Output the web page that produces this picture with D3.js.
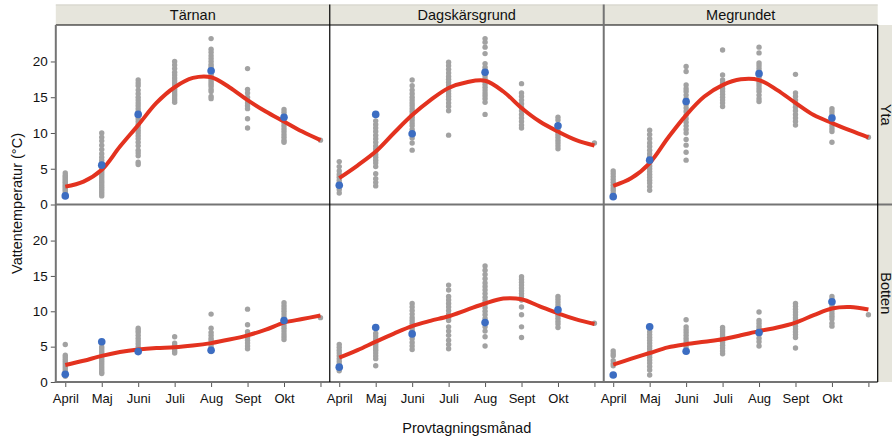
<!DOCTYPE html>
<html>
<head>
<meta charset="utf-8">
<script src="https://cdn.jsdelivr.net/npm/d3@7"></script>
<style>
  body { margin: 0; background: #fff; }
  svg { display: block; font-family: "Liberation Sans", Arial, sans-serif; }
</style>
</head>
<body>
<svg id="chart" width="892" height="440"></svg>
<script>
const sites = ["Tärnan", "Dagskärsgrund", "Megrundet"];
const depths = ["Yta", "Botten"];
const months = ["April", "Maj", "Juni", "Juli", "Aug", "Sept", "Okt", ""];
const yTicks = [0, 5, 10, 15, 20];

// gray dots: one list per month position (8th = extra point at the end)
const grayTarnanYta = [
  [1.3,1.6,1.9,2.1,2.3,2.5,2.7,2.9,3.1,3.3,3.5,3.7,3.9,4.1,4.4],
  [10.0,9.4,8.9,8.3,7.7,7.1,6.6,6.2,5.8,5.2,4.8,4.5,4.2,3.9,3.6,3.3,3.0,2.7,2.4,2.1,1.8,1.5,1.2],
  [17.4,17.0,16.6,16.0,15.5,15.0,14.6,14.2,13.8,13.4,13.0,12.4,12.0,11.6,11.2,10.8,10.4,10.0,9.6,9.2,8.7,8.2,7.6,7.2,6.8,5.9,5.6],
  [20.0,19.5,19.0,18.5,18.1,17.7,17.3,17.0,16.7,16.4,16.1,15.8,15.5,15.2,14.9,14.6,14.3],
  [23.2,21.7,21.3,20.8,20.4,20.0,19.6,19.3,19.0,18.6,18.3,18.0,17.7,17.4,17.1,16.8,16.5,16.1,15.8,15.1,14.8],
  [19.0,16.1,15.6,15.0,14.6,14.2,13.8,13.4,12.0,10.7],
  [13.3,12.9,12.5,11.9,11.4,11.0,10.6,10.2,9.8,9.4,9.0,8.7],
  [9.0]
];
const grayTarnanBotten = [
  [5.3,3.8,3.5,3.2,2.9,2.6,2.3,2.0,1.7,1.4,1.1,0.8],
  [5.5,5.0,4.7,4.4,4.1,3.8,3.5,3.2,2.9,2.6,2.3,2.0,1.7,1.4,1.2],
  [7.6,7.3,7.0,6.6,6.2,5.8,5.4,5.0,4.6],
  [6.4,5.5,5.2,4.9,4.6,4.3,4.1],
  [9.6,7.6,7.0,6.6,6.2,5.9,5.5,5.1,4.7,4.3],
  [10.3,8.1,7.1,6.7,6.3,5.9,5.5,5.1,4.7],
  [11.2,10.8,10.4,10.0,9.6,9.2,8.8,8.4,8.0,7.6,7.2,6.8,6.4,6.0],
  [9.1]
];
const grayDagskarYta = [
  [6.0,5.3,4.7,4.2,3.8,3.4,3.0,2.5,2.1,1.6],
  [11.7,11.2,10.7,10.2,9.7,9.2,8.7,8.2,7.8,7.4,7.0,6.6,6.2,5.8,5.3,4.3,3.6,3.1,2.6],
  [17.4,16.6,16.0,15.5,15.0,14.6,14.2,13.8,13.4,13.0,12.6,12.2,11.8,11.4,11.0,10.5,9.9,9.3,8.6,7.6],
  [19.9,19.4,18.9,18.4,17.9,17.5,17.1,16.7,16.3,15.9,15.5,15.1,14.7,14.2,13.7,13.1,9.7],
  [23.2,22.7,22.0,21.1,19.7,19.2,18.8,18.0,17.6,17.2,16.8,16.4,16.0,15.6,15.2,14.8,14.3,12.6],
  [16.9,15.6,15.1,14.6,14.1,13.6,13.1,12.6,12.1,11.6,11.1,10.7],
  [12.2,11.8,10.6,10.2,9.8,9.4,9.0,8.6,8.2,7.8],
  [8.6]
];
const grayDagskarBotten = [
  [5.3,4.9,4.5,4.1,3.7,3.3,2.9,2.5,2.1,1.6],
  [6.9,6.5,6.1,5.7,5.4,5.1,4.8,4.5,4.1,3.7,3.3,2.3],
  [11.1,10.6,10.1,9.6,9.1,8.7,8.3,7.9,7.5,7.1,6.5,6.1,5.6,5.1,4.6],
  [13.7,13.0,12.1,11.6,11.1,10.6,10.1,9.6,9.1,8.7,7.8,7.2,6.6,5.9,5.3,4.7],
  [16.4,15.8,15.2,14.6,14.0,13.5,13.0,12.5,12.0,11.5,11.0,10.5,10.0,9.5,9.0,7.8,7.2,6.4,5.1],
  [14.9,14.5,14.1,13.7,13.3,12.9,12.5,12.1,11.6,10.6,9.5,7.8,6.3],
  [12.1,11.7,11.3,10.9,10.5,9.8,9.4,9.0,8.6,8.2,7.7],
  [8.3]
];
const grayMegrundetYta = [
  [4.7,4.3,3.9,3.5,3.1,2.7,2.3,2.0,1.6],
  [10.4,9.8,9.2,8.6,8.1,7.6,7.1,6.7,6.3,5.8,5.4,5.0,4.6,4.2,3.8,3.4,3.0,2.5,2.0],
  [19.3,18.6,16.7,16.2,15.8,15.3,14.8,14.0,13.5,13.0,12.5,12.0,11.5,11.0,10.5,10.0,9.1,8.3,7.3,6.2],
  [21.6,18.1,17.4,17.0,16.6,16.2,15.8,15.4,15.0,14.6,14.2,13.7],
  [22.0,21.2,19.8,19.4,19.0,18.6,18.2,17.8,17.4,17.0,16.6,16.2,15.8,15.3,14.8,14.4],
  [18.2,15.6,15.1,14.6,14.1,13.6,13.1,12.6,12.1,11.6,11.1],
  [13.4,13.0,12.6,11.8,11.4,11.0,10.6,10.2,8.7],
  [9.4]
];
const grayMegrundetBotten = [
  [4.4,4.0,3.7,3.0,2.6,2.3],
  [7.1,6.7,6.3,5.9,5.5,5.1,4.7,4.3,3.9,3.5,3.1,2.7,2.2,1.7,1.0],
  [8.8,7.8,7.4,7.0,6.6,6.2,5.8,5.4,5.0],
  [7.7,7.4,7.1,6.8,6.5,6.2,5.9,5.6,5.2,4.8,4.4,4.0],
  [9.9,8.7,8.3,7.9,7.5,7.1,6.7,6.2,5.7,5.1],
  [11.1,10.7,10.3,9.9,9.5,9.1,8.7,8.3,7.9,7.5,7.1,6.7,6.3,4.8],
  [12.1,11.7,10.9,10.5,10.1,9.7,9.3,8.9,8.3,7.9],
  [9.5]
];

// blue dots (one per month, null = none)
const blueTarnanYta       = [1.2, 5.5, 12.6, null, 18.7, null, 12.2, null];
const blueTarnanBotten    = [1.1, 5.7, 4.3, null, 4.5, null, 8.7, null];
const blueDagskarYta      = [2.7, 12.6, 9.9, null, 18.5, null, 11.0, null];
const blueDagskarBotten   = [2.1, 7.7, 6.8, null, 8.4, null, 10.2, null];
const blueMegrundetYta    = [1.1, 6.2, 14.4, null, 18.3, null, 12.1, null];
const blueMegrundetBotten = [1.0, 7.8, 4.35, null, 7.0, null, 11.35, null];

// red smoother, read at half-month steps (April .. 8th position)
const curveTarnanYta       = [2.5,3.2,4.85,8.1,11.1,14.2,16.4,17.7,17.8,16.4,14.6,13.0,11.6,10.2,9.0];
const curveTarnanBotten    = [2.4,3.0,3.7,4.25,4.6,4.8,4.9,5.15,5.5,6.0,6.6,7.4,8.4,8.9,9.4];
const curveDagskarYta      = [3.7,5.45,7.4,10.0,12.5,14.6,16.3,17.1,17.3,15.8,13.5,11.6,10.2,9.0,8.25];
const curveDagskarBotten   = [3.45,4.5,5.7,6.85,7.9,8.65,9.3,10.2,11.1,11.8,11.7,10.7,9.7,8.85,8.2];
const curveMegrundetYta    = [2.6,3.7,5.8,9.3,12.5,15.1,16.7,17.5,17.4,16.0,14.2,12.5,11.4,10.35,9.4];
const curveMegrundetBotten = [2.45,3.3,4.1,4.9,5.35,5.7,6.05,6.6,7.2,7.7,8.4,9.45,10.4,10.6,10.25];

const panels = [
  {col: 0, row: 0, gray: grayTarnanYta, blue: blueTarnanYta, curve: curveTarnanYta},
  {col: 0, row: 1, gray: grayTarnanBotten, blue: blueTarnanBotten, curve: curveTarnanBotten},
  {col: 1, row: 0, gray: grayDagskarYta, blue: blueDagskarYta, curve: curveDagskarYta},
  {col: 1, row: 1, gray: grayDagskarBotten, blue: blueDagskarBotten, curve: curveDagskarBotten},
  {col: 2, row: 0, gray: grayMegrundetYta, blue: blueMegrundetYta, curve: curveMegrundetYta},
  {col: 2, row: 1, gray: grayMegrundetBotten, blue: blueMegrundetBotten, curve: curveMegrundetBotten}
];

const svg = d3.select("#chart");
const plotLeft = 55.8, plotRight = 877.7;
const headerTop = 4.5, headerBottom = 25;
const rowTops = [25, 204.5], rowBottoms = [204.5, 382];
const panelW = (plotRight - plotLeft) / 3;
const stripBg = "#e6e5dc";

const xScale = col => d3.scaleLinear()
  .domain([-0.26, 7.255])
  .range([plotLeft + col * panelW, plotLeft + (col + 1) * panelW]);
const yScale = row => d3.scaleLinear()
  .domain([0, 25.1])
  .range([rowBottoms[row], rowTops[row]]);

// strips
svg.append("rect").attr("x", plotLeft).attr("y", headerTop)
  .attr("width", plotRight - plotLeft).attr("height", headerBottom - headerTop)
  .attr("fill", stripBg);
svg.append("line").attr("x1", plotLeft).attr("x2", plotRight)
  .attr("y1", headerTop + 0.5).attr("y2", headerTop + 0.5)
  .attr("stroke", "#d4d3ca").attr("stroke-width", 1);
svg.append("rect").attr("x", plotRight).attr("y", headerBottom)
  .attr("width", 892 - plotRight).attr("height", rowBottoms[1] - headerBottom)
  .attr("fill", stripBg);

sites.forEach((s, i) => {
  svg.append("text")
    .attr("x", plotLeft + (i + 0.5) * panelW).attr("y", 20)
    .attr("text-anchor", "middle").attr("font-size", 14.5).attr("fill", "#111")
    .text(s);
});
depths.forEach((d, i) => {
  const cy = (rowTops[i] + rowBottoms[i]) / 2;
  svg.append("text")
    .attr("transform", `translate(880.5,${cy}) rotate(90)`)
    .attr("text-anchor", "middle").attr("font-size", 14.5).attr("fill", "#111")
    .text(d);
});

// marks
panels.forEach(p => {
  const x = xScale(p.col), y = yScale(p.row);
  const g = svg.append("g");

  const pts = p.gray.flatMap((vals, m) => vals.map(v => ({m, v})));
  g.selectAll(".gray").data(pts).enter().append("circle")
    .attr("cx", d => x(d.m)).attr("cy", d => y(d.v))
    .attr("r", 2.7).attr("fill", "#a2a2a2");

  const line = d3.line()
    .x((d, i) => x(i / 2)).y(d => y(d))
    .curve(d3.curveCatmullRom);
  g.append("path").datum(p.curve)
    .attr("d", line).attr("fill", "none")
    .attr("stroke", "#e3321f").attr("stroke-width", 4);

  const blues = p.blue.map((v, m) => ({m, v})).filter(d => d.v != null);
  g.selectAll(".blue").data(blues).enter().append("circle")
    .attr("cx", d => x(d.m)).attr("cy", d => y(d.v))
    .attr("r", 3.8).attr("fill", "#3c6dc2");
});

// axes
[0, 1].forEach(row => {
  const ax = svg.append("g").attr("transform", `translate(${plotLeft},0)`)
    .call(d3.axisLeft(yScale(row)).tickValues(yTicks).tickSize(5).tickPadding(3));
  ax.select(".domain").remove();
  ax.selectAll("line").attr("stroke", "#555");
  ax.selectAll("text").attr("font-size", 13.5).attr("fill", "#111")
    .attr("font-family", "Liberation Sans, Arial, sans-serif");
});
[0, 1, 2].forEach(col => {
  const ax = svg.append("g").attr("transform", `translate(0,${rowBottoms[1]})`)
    .call(d3.axisBottom(xScale(col)).tickValues(d3.range(8))
      .tickFormat(i => months[i]).tickSize(5).tickPadding(7));
  ax.select(".domain").remove();
  ax.selectAll("line").attr("stroke", "#555");
  ax.selectAll("text").attr("font-size", 13).attr("fill", "#111")
    .attr("font-family", "Liberation Sans, Arial, sans-serif");
});

// frame lines
const gray = "#747474";
svg.append("line").attr("x1", plotLeft).attr("x2", plotRight)
  .attr("y1", headerBottom).attr("y2", headerBottom)
  .attr("stroke", "#000").attr("stroke-width", 1.2);
svg.append("line").attr("x1", plotLeft).attr("x2", 892)
  .attr("y1", rowBottoms[0]).attr("y2", rowBottoms[0])
  .attr("stroke", gray).attr("stroke-width", 2);
svg.append("line").attr("x1", plotLeft - 1).attr("x2", plotRight)
  .attr("y1", rowBottoms[1]).attr("y2", rowBottoms[1])
  .attr("stroke", gray).attr("stroke-width", 2);
svg.append("line").attr("x1", plotLeft).attr("x2", plotLeft)
  .attr("y1", headerBottom).attr("y2", rowBottoms[1])
  .attr("stroke", gray).attr("stroke-width", 2);
svg.append("line").attr("x1", plotLeft + panelW).attr("x2", plotLeft + panelW)
  .attr("y1", headerTop).attr("y2", rowBottoms[1])
  .attr("stroke", "#000").attr("stroke-width", 1.2);
svg.append("line").attr("x1", plotLeft + 2 * panelW).attr("x2", plotLeft + 2 * panelW)
  .attr("y1", headerTop).attr("y2", rowBottoms[1])
  .attr("stroke", gray).attr("stroke-width", 2);
svg.append("line").attr("x1", plotRight).attr("x2", plotRight)
  .attr("y1", headerBottom).attr("y2", rowBottoms[1])
  .attr("stroke", "#000").attr("stroke-width", 1.2);

// axis titles
svg.append("text")
  .attr("transform", `translate(22,${(rowTops[0] + rowBottoms[1]) / 2}) rotate(-90)`)
  .attr("text-anchor", "middle").attr("font-size", 14.5).attr("fill", "#111")
  .text("Vattentemperatur (°C)");
svg.append("text")
  .attr("x", (plotLeft + plotRight) / 2).attr("y", 433)
  .attr("text-anchor", "middle").attr("font-size", 14.5).attr("fill", "#111")
  .text("Provtagningsmånad");
</script>
</body>
</html>
